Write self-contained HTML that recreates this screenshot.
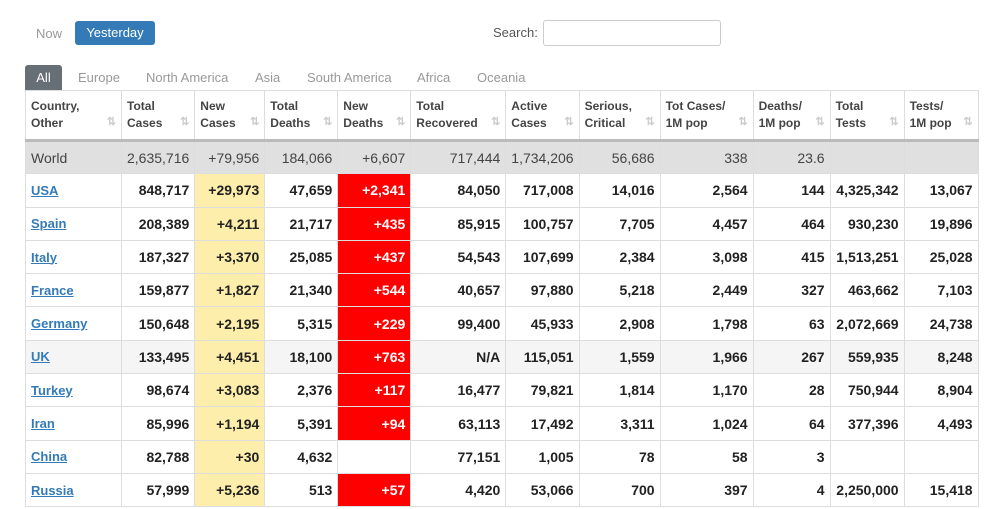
<!DOCTYPE html>
<html><head><style>
body{margin:0;width:999px;height:509px;background:#fff;font-family:"Liberation Sans",Arial,sans-serif;overflow:hidden;position:relative}
.now{position:absolute;left:36px;top:26px;font-size:13px;color:#999}
.yest{position:absolute;left:75px;top:21px;width:80px;height:24px;background:#337ab7;border-radius:3px;color:#fff;font-size:13px;line-height:24px;text-align:center}
.srch{position:absolute;left:493px;top:25px;font-size:13px;color:#555}
.sbox{position:absolute;left:543px;top:20px;width:176px;height:24px;border:1px solid #ccc;border-radius:3px}
.tabs{position:absolute;top:65px;left:25px;font-size:13px;color:#999}
.tabs span{position:absolute;top:5px;white-space:nowrap}
.all{position:absolute;left:0;top:0;width:37px;height:25px;background:#666e76;color:#fff;border-radius:3px 3px 0 0;text-align:center;line-height:25px}
table{position:absolute;left:25px;top:90px;border-collapse:collapse;table-layout:fixed;font-size:14px;color:#222}
td,th{border:1px solid #ddd;padding:0 5px;text-align:right;font-weight:bold;white-space:nowrap;overflow:hidden}
th{height:48px;text-align:left;font-size:12px;color:#444;vertical-align:middle;line-height:17px;position:relative}
th i{position:absolute;right:5px;bottom:8px;color:#ccc;font-style:normal;font-size:11px}
tr{height:33.3px}
td:first-child{text-align:left;font-size:13px}
td a{color:#337ab7;text-decoration:underline}
.w td{background:#e0e0e0;font-weight:normal;color:#444;font-size:14px;border-top:3px solid #bbb}
.y{background:#fdeeab}
.r{background:#f00;color:#fff}
.g td{background:#f5f5f5}
.g td.y{background:#fdeeab}.g td.r{background:#f00}
</style></head><body>
<div class="now">Now</div><div class="yest">Yesterday</div>
<div class="srch">Search:</div><div class="sbox"></div>
<div class="tabs"><div class="all">All</div>
<span style="left:53px">Europe</span><span style="left:121px">North America</span><span style="left:230px">Asia</span><span style="left:282px">South America</span><span style="left:392px">Africa</span><span style="left:452px">Oceania</span></div>
<table>
<colgroup><col style="width:96px"><col style="width:73px"><col style="width:70px"><col style="width:73px"><col style="width:73px"><col style="width:95px"><col style="width:73px"><col style="width:81px"><col style="width:93px"><col style="width:77px"><col style="width:74px"><col style="width:74px"></colgroup>
<tr><th>Country,<br>Other<i>⇅</i></th><th>Total<br>Cases<i>⇅</i></th><th>New<br>Cases<i>⇅</i></th><th>Total<br>Deaths<i>⇅</i></th><th>New<br>Deaths<i>⇅</i></th><th>Total<br>Recovered<i>⇅</i></th><th>Active<br>Cases<i>⇅</i></th><th>Serious,<br>Critical<i>⇅</i></th><th>Tot Cases/<br>1M pop<i>⇅</i></th><th>Deaths/<br>1M pop<i>⇅</i></th><th>Total<br>Tests<i>⇅</i></th><th>Tests/<br>1M pop<i>⇅</i></th></tr>
<tr class="w"><td>World</td><td>2,635,716</td><td>+79,956</td><td>184,066</td><td>+6,607</td><td>717,444</td><td>1,734,206</td><td>56,686</td><td>338</td><td>23.6</td><td></td><td></td></tr>
<tr><td><a>USA</a></td><td>848,717</td><td class="y">+29,973</td><td>47,659</td><td class="r">+2,341</td><td>84,050</td><td>717,008</td><td>14,016</td><td>2,564</td><td>144</td><td>4,325,342</td><td>13,067</td></tr>
<tr><td><a>Spain</a></td><td>208,389</td><td class="y">+4,211</td><td>21,717</td><td class="r">+435</td><td>85,915</td><td>100,757</td><td>7,705</td><td>4,457</td><td>464</td><td>930,230</td><td>19,896</td></tr>
<tr><td><a>Italy</a></td><td>187,327</td><td class="y">+3,370</td><td>25,085</td><td class="r">+437</td><td>54,543</td><td>107,699</td><td>2,384</td><td>3,098</td><td>415</td><td>1,513,251</td><td>25,028</td></tr>
<tr><td><a>France</a></td><td>159,877</td><td class="y">+1,827</td><td>21,340</td><td class="r">+544</td><td>40,657</td><td>97,880</td><td>5,218</td><td>2,449</td><td>327</td><td>463,662</td><td>7,103</td></tr>
<tr><td><a>Germany</a></td><td>150,648</td><td class="y">+2,195</td><td>5,315</td><td class="r">+229</td><td>99,400</td><td>45,933</td><td>2,908</td><td>1,798</td><td>63</td><td>2,072,669</td><td>24,738</td></tr>
<tr class="g"><td><a>UK</a></td><td>133,495</td><td class="y">+4,451</td><td>18,100</td><td class="r">+763</td><td>N/A</td><td>115,051</td><td>1,559</td><td>1,966</td><td>267</td><td>559,935</td><td>8,248</td></tr>
<tr><td><a>Turkey</a></td><td>98,674</td><td class="y">+3,083</td><td>2,376</td><td class="r">+117</td><td>16,477</td><td>79,821</td><td>1,814</td><td>1,170</td><td>28</td><td>750,944</td><td>8,904</td></tr>
<tr><td><a>Iran</a></td><td>85,996</td><td class="y">+1,194</td><td>5,391</td><td class="r">+94</td><td>63,113</td><td>17,492</td><td>3,311</td><td>1,024</td><td>64</td><td>377,396</td><td>4,493</td></tr>
<tr><td><a>China</a></td><td>82,788</td><td class="y">+30</td><td>4,632</td><td></td><td>77,151</td><td>1,005</td><td>78</td><td>58</td><td>3</td><td></td><td></td></tr>
<tr><td><a>Russia</a></td><td>57,999</td><td class="y">+5,236</td><td>513</td><td class="r">+57</td><td>4,420</td><td>53,066</td><td>700</td><td>397</td><td>4</td><td>2,250,000</td><td>15,418</td></tr>
</table>
</body></html>
